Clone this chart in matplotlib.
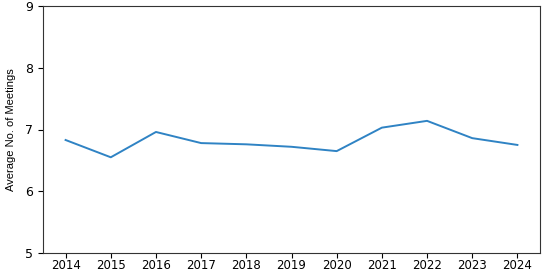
import matplotlib
matplotlib.use("Agg")
import matplotlib.pyplot as plt

years = [2014, 2015, 2016, 2017, 2018, 2019, 2020, 2021, 2022, 2023, 2024]
avg_meetings = [6.83, 6.55, 6.96, 6.78, 6.76, 6.72, 6.65, 7.03, 7.14, 6.86, 6.75]

fig = plt.figure(figsize=(5.5, 2.71), dpi=100)
ax = fig.add_axes([43/550, 1 - 253/271, (540 - 43)/550, (253 - 6)/271])

ax.plot(years, avg_meetings, color='#2f83c4', linewidth=1.4)

ax.set_ylim(5, 9)
ax.set_yticks([5, 6, 7, 8, 9])
ax.set_xticks(years)
ax.tick_params(axis='y', labelsize=9)
ax.tick_params(axis='x', labelsize=8.5, pad=1)
for s in ax.spines.values():
    s.set_color('#333333')
ax.set_ylabel('Average No. of Meetings', fontsize=8,
              family=['Liberation Sans', 'DejaVu Sans'])
ax.yaxis.set_label_coords(-0.054, 0.5)

fig.savefig('out.png', dpi=100)
